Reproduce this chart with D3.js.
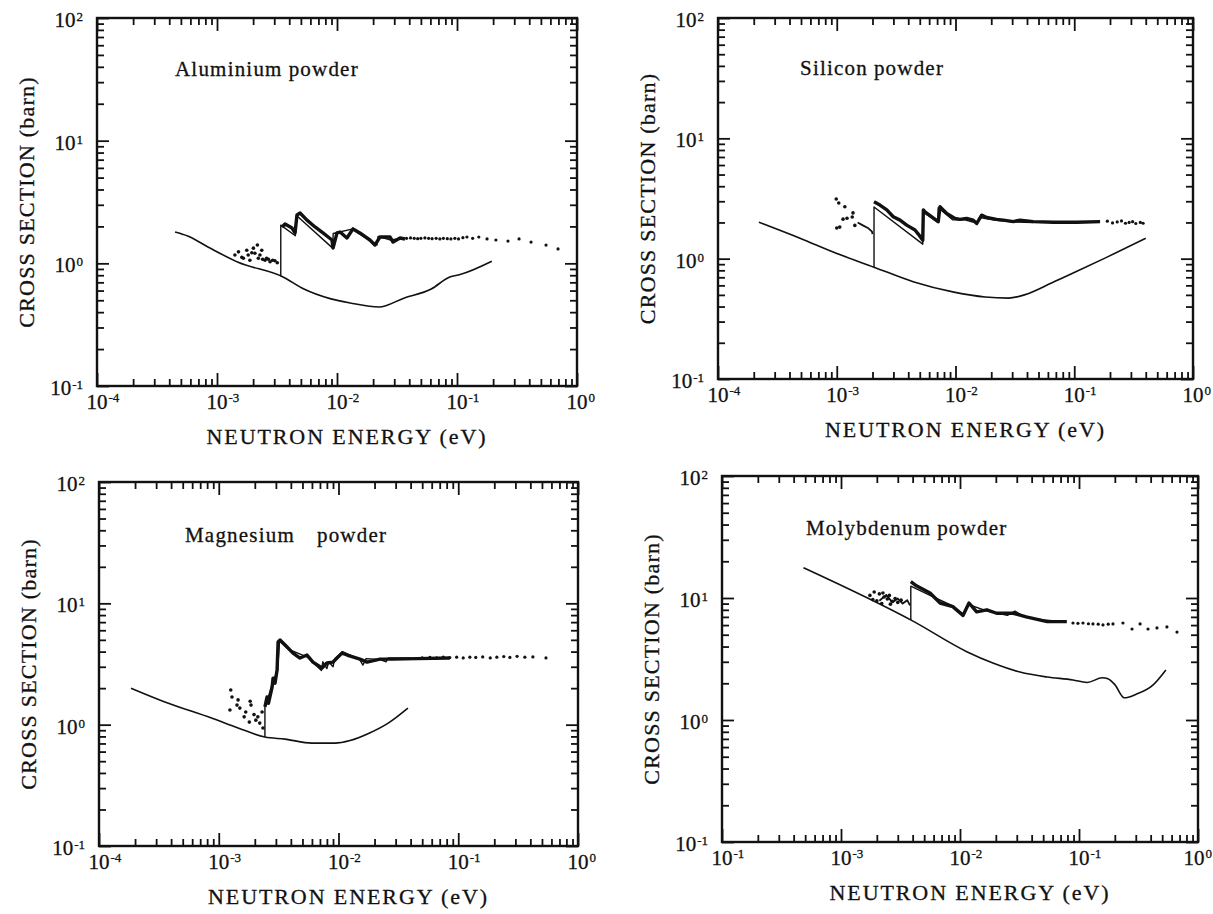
<!DOCTYPE html>
<html><head><meta charset="utf-8">
<script src="https://cdn.jsdelivr.net/npm/d3@7/dist/d3.min.js"></script>
<style>
body{margin:0;background:#fff}
svg{display:block}
text{font-family:"Liberation Serif","Times New Roman","DejaVu Serif",serif;fill:#111;stroke:#111;stroke-width:0.3px}
</style>
</head><body>
<svg id="c" width="1213" height="914" font-family="Liberation Serif, Times New Roman, serif"></svg>
<script>
// ---------- tick labels ----------
const xTickValues = [1e-4, 1e-3, 1e-2, 1e-1, 1];
const xTickExps = ["-4", "-3", "-2", "-1", "0"];
const xTickExpsMo = ["-1", "-3", "-2", "-1", "0"];
const yTickValues = [0.1, 1, 10, 100];
const yTickExps = ["-1", "0", "1", "2"];
const panelTitles = ["Aluminium powder", "Silicon powder", "Magnesium  powder", "Molybdenum powder"];
const xTitle = "NEUTRON ENERGY (eV)";
const yTitle = "CROSS SECTION (barn)";

// ---------- Aluminium ----------
const alLower = [[4.47e-4,1.80],[5.7e-4,1.67],[8.4e-4,1.36],[1.5e-3,1.02],[3.55e-3,0.774],[5.3e-3,0.617],[8.9e-3,0.513],[1.29e-2,0.475],[2.24e-2,0.44],[3.6e-2,0.52],[6.1e-2,0.617],[8.7e-2,0.774],[0.106,0.81],[0.195,1.04]];
const alCalc = [[3.4e-3,0.78],[3.4e-3,2.05],[4.5e-3,1.68],[4.6e-3,2.45],[9.2e-3,1.33],[9.3e-3,1.75],[1.33e-2,1.9],[2.15e-2,1.41],[2.2e-2,1.66],[2.8e-2,1.55],[3.5e-2,1.6]];
const alExp = [[3.48e-3,1.98],[3.69e-3,2.09],[4.22e-3,1.94],[4.47e-3,1.77],[4.64e-3,2.48],[4.92e-3,2.57],[5.62e-3,2.25],[6.56e-3,1.98],[7.64e-3,1.77],[9.08e-3,1.55],[9.27e-3,1.33],[1.0e-2,1.77],[1.06e-2,1.80],[1.21e-2,1.61],[1.36e-2,1.91],[1.55e-2,1.77],[1.88e-2,1.55],[2.07e-2,1.41],[2.28e-2,1.64],[2.77e-2,1.64],[2.93e-2,1.49],[3.35e-2,1.61],[3.69e-2,1.58]];
const alDots = [[1.41e-3,1.17],[1.51e-3,1.24],[1.61e-3,1.12],[1.77e-3,1.28],[1.82e-3,1.17],[1.88e-3,1.06],[2.01e-3,1.33],[2.07e-3,1.21],[2.17e-3,1.41],[2.21e-3,1.10],[2.36e-3,1.28],[2.4e-3,1.08],[2.51e-3,1.06],[2.68e-3,1.08],[2.77e-3,1.03],[2.91e-3,1.06],[3.04e-3,1.05],[3.18e-3,1.01],[1.66e-3,1.10],[1.95e-3,1.22],[2.28e-3,1.17],[2.59e-3,1.10]];
const alTail = [[3.8e-2,1.6],[4.1e-2,1.61],[4.4e-2,1.6],[4.7e-2,1.59],[5.0e-2,1.6],[5.4e-2,1.61],[5.8e-2,1.6],[6.2e-2,1.59],[6.7e-2,1.6],[7.2e-2,1.58],[7.7e-2,1.6],[8.3e-2,1.59],[8.9e-2,1.58],[9.6e-2,1.6],[0.103,1.58],[0.112,1.62],[0.121,1.64],[0.135,1.6],[0.152,1.64],[0.178,1.58],[0.211,1.55],[0.266,1.52],[0.329,1.58],[0.414,1.49],[0.552,1.41],[0.695,1.31]];

// ---------- Silicon ----------
const siLower = [[2.21e-4,2.01],[4.9e-4,1.48],[9.9e-4,1.11],[2.06e-3,0.85],[4.47e-3,0.64],[9.7e-3,0.527],[1.78e-2,0.48],[2.8e-2,0.47],[3.8e-2,0.50],[6.5e-2,0.63],[0.101,0.77],[0.189,1.03],[0.40,1.48]];
const siCalc = [[2.06e-3,0.85],[2.06e-3,2.69],[5.3e-3,1.32],[5.32e-3,2.45],[7.1e-3,2.0],[7.15e-3,2.65],[9.5e-3,2.1],[1.2e-2,2.1],[1.5e-2,1.98],[1.6e-2,2.2],[2.2e-2,2.08],[3e-2,2.02],[4.5e-2,2.0]];
const siExp = [[2.06e-3,2.97],[2.31e-3,2.79],[2.64e-3,2.54],[2.99e-3,2.23],[3.41e-3,2.09],[3.88e-3,1.90],[4.56e-3,1.73],[4.86e-3,1.60],[5.3e-3,1.42],[5.36e-3,2.54],[5.53e-3,2.45],[7.16e-3,2.03],[7.4e-3,2.70],[8.43e-3,2.38],[9.9e-3,2.16],[1.09e-2,2.12],[1.24e-2,2.16],[1.41e-2,2.09],[1.51e-2,1.96],[1.66e-2,2.30],[1.83e-2,2.20],[2.22e-2,2.12],[2.53e-2,2.09],[3.07e-2,2.03],[3.49e-2,2.09],[4.52e-2,2.03],[6.67e-2,2.01],[0.105,2.01],[0.165,2.03]];
const siPre = [[1.5e-3,2.0],[1.66e-3,1.89],[1.83e-3,1.8],[1.98e-3,1.68],[2.0e-3,1.6]];
const siDots = [[9.9e-4,3.13],[1.04e-3,2.9],[1.17e-3,2.7],[1.13e-3,2.13],[1.22e-3,2.17],[1.35e-3,2.22],[1.37e-3,2.4],[1.0e-3,1.8],[1.06e-3,1.83],[1.42e-3,1.89]];
const siTail = [[0.19,2.05],[0.21,1.98],[0.23,2.02],[0.25,2.06],[0.27,1.97],[0.29,2.0],[0.31,2.03],[0.33,1.96],[0.36,2.0],[0.38,1.97]];

// ---------- Magnesium ----------
const mgLower = [[1.85e-4,2.0],[3.55e-4,1.54],[8.8e-4,1.13],[1.45e-3,0.94],[2.43e-3,0.79],[3.57e-3,0.76],[6.0e-3,0.705],[9.3e-3,0.705],[1.25e-2,0.74],[1.8e-2,0.85],[2.6e-2,1.03],[3.8e-2,1.37]];
const mgCalc = [[2.43e-3,0.79],[2.43e-3,1.45],[2.6e-3,1.7],[2.85e-3,2.3],[3.1e-3,2.8],[3.22e-3,4.9],[3.8e-3,4.2],[5.5e-3,3.6],[7.2e-3,2.8],[7.4e-3,3.3],[8.0e-3,2.9],[8.3e-3,3.3],[9e-3,3.0],[9.3e-3,3.5],[1.08e-2,4.0],[1.5e-2,3.45],[1.6e-2,3.1],[1.7e-2,3.5],[2.2e-2,3.45],[2.5e-2,3.3],[2.6e-2,3.55],[4e-2,3.55]];
const mgExp = [[2.43e-3,1.40],[2.53e-3,1.69],[2.6e-3,1.5],[2.79e-3,2.04],[2.84e-3,2.42],[2.95e-3,2.2],[3.07e-3,2.82],[3.13e-3,4.8],[3.25e-3,4.98],[3.72e-3,4.36],[4.17e-3,3.89],[4.77e-3,3.54],[5.46e-3,3.75],[6.12e-3,3.28],[7.28e-3,2.93],[8.0e-3,3.22],[9.0e-3,3.28],[1.07e-2,3.89],[1.18e-2,3.75],[1.51e-2,3.47],[1.73e-2,3.28],[2.22e-2,3.47],[2.85e-2,3.47],[4.5e-2,3.5],[8.5e-2,3.54]];
const mgDots = [[1.26e-3,1.93],[1.29e-3,1.69],[1.24e-3,1.32],[1.42e-3,1.45],[1.5e-3,1.37],[1.68e-3,1.27],[1.83e-3,1.56],[1.86e-3,1.45],[1.97e-3,1.21],[1.8e-3,1.05],[2.12e-3,1.16],[2.3e-3,1.27],[2.2e-3,1.03],[2.34e-3,0.94],[1.45e-3,1.6],[1.63e-3,1.16],[2.04e-3,1.09]];
const mgTail = [[0.05,3.56],[0.058,3.58],[0.066,3.55],[0.075,3.6],[0.085,3.57],[0.097,3.6],[0.11,3.55],[0.125,3.6],[0.14,3.58],[0.16,3.62],[0.185,3.55],[0.21,3.6],[0.24,3.64],[0.27,3.58],[0.31,3.66],[0.36,3.6],[0.42,3.62],[0.54,3.55]];

// ---------- Molybdenum ----------
const moLower = [[4.84e-4,17.7],[4.1e-3,6.4],[1.14e-2,3.63],[1.89e-2,2.93],[3.19e-2,2.47],[5.4e-2,2.25],[8.9e-2,2.13],[0.117,2.03],[0.157,2.22],[0.175,2.18],[0.2,1.95],[0.24,1.52],[0.3,1.62],[0.42,1.94],[0.537,2.57]];
const moCalc = [[3.86e-3,6.6],[3.86e-3,12.5],[5.6e-3,10.5],[8.7e-3,8.6],[1.06e-2,7.4],[1.19e-2,8.8],[1.7e-2,7.8],[2.5e-2,7.2],[2.9e-2,7.8],[3.5e-2,7.0],[5e-2,6.6],[7.5e-2,6.4]];
const moExp = [[3.86e-3,13.6],[4.3e-3,12.6],[5.6e-3,11.0],[6.8e-3,9.1],[8.7e-3,8.5],[1.06e-2,7.2],[1.19e-2,9.1],[1.38e-2,7.7],[1.68e-2,8.0],[2.03e-2,7.5],[2.8e-2,7.5],[3.6e-2,7.0],[5.4e-2,6.4],[7.9e-2,6.4]];
const moPre = [[2.1e-3,9.5],[2.4e-3,10.6],[2.7e-3,9.2],[3.0e-3,9.9],[3.3e-3,9.0],[3.6e-3,9.6],[3.8e-3,8.7]];
const moDots = [[1.75e-3,10.5],[1.9e-3,11.2],[2.0e-3,9.5],[2.1e-3,10.8],[2.2e-3,9.0],[2.3e-3,10.2],[2.45e-3,9.8],[2.55e-3,10.5],[2.7e-3,9.4],[2.85e-3,9.9],[3.0e-3,9.2],[3.2e-3,9.6],[1.85e-3,9.7],[2.25e-3,11.0],[2.6e-3,8.9]];
const moTail = [[0.089,6.24],[0.098,6.2],[0.108,6.24],[0.12,6.15],[0.131,6.13],[0.145,6.1],[0.159,6.02],[0.176,6.1],[0.193,6.13],[0.234,6.24],[0.279,5.57],[0.326,6.13],[0.38,5.57],[0.452,5.68],[0.548,5.79],[0.666,5.26]];

// ---------- layout (positions only) ----------
const panels = [
  {left:97,  right:577,  top:18,  bottom:386, title:panelTitles[0], tdx:78, tdy:58, xExps:xTickExps,
   lower:alLower, calc:alCalc, exp:alExp, pre:null, dots:alDots, tail:alTail},
  {left:718, right:1193, top:18,  bottom:379, title:panelTitles[1], tdx:82, tdy:57, xExps:xTickExps,
   lower:siLower, calc:siCalc, exp:siExp, pre:siPre, dots:siDots, tail:siTail},
  {left:99,  right:578,  top:482, bottom:846, title:panelTitles[2], tdx:86, tdy:60, xExps:xTickExps,
   lower:mgLower, calc:mgCalc, exp:mgExp, pre:null, dots:mgDots, tail:mgTail},
  {left:722, right:1198, top:476, bottom:842, title:panelTitles[3], tdx:84, tdy:59, xExps:xTickExpsMo,
   lower:moLower, calc:moCalc, exp:moExp, pre:moPre, dots:moDots, tail:moTail}
];

const svg = d3.select("#c");
const W = 1213;

function minorTicks(lo, hi){
  const out = [];
  for (let e = lo; e < hi; e++) for (let k = 2; k < 10; k++) out.push(k * Math.pow(10, e));
  return out;
}

function drawPanel(p){
  const x = d3.scaleLog().domain([1e-4, 1]).range([p.left, p.right]);
  const y = d3.scaleLog().domain([0.1, 100]).range([p.bottom, p.top]);
  const g = svg.append("g");
  const xMinor = minorTicks(-4, 0), yMinor = minorTicks(-1, 2);

  function axisStyle(sel){
    sel.select(".domain").remove();
    sel.selectAll(".tick line").attr("stroke", "#111").attr("stroke-width", 1.8);
  }
  g.append("g").attr("transform", `translate(0,${p.bottom})`).call(d3.axisBottom(x).tickValues(xTickValues).tickSize(-13).tickFormat("")).call(axisStyle);
  g.append("g").attr("transform", `translate(0,${p.bottom})`).call(d3.axisBottom(x).tickValues(xMinor).tickSize(-7).tickFormat("")).call(axisStyle);
  g.append("g").attr("transform", `translate(0,${p.top})`).call(d3.axisTop(x).tickValues(xTickValues).tickSize(-13).tickFormat("")).call(axisStyle);
  g.append("g").attr("transform", `translate(0,${p.top})`).call(d3.axisTop(x).tickValues(xMinor).tickSize(-7).tickFormat("")).call(axisStyle);
  g.append("g").attr("transform", `translate(${p.left},0)`).call(d3.axisLeft(y).tickValues(yTickValues).tickSize(-12).tickFormat("")).call(axisStyle);
  g.append("g").attr("transform", `translate(${p.left},0)`).call(d3.axisLeft(y).tickValues(yMinor).tickSize(-7).tickFormat("")).call(axisStyle);
  g.append("g").attr("transform", `translate(${p.right},0)`).call(d3.axisRight(y).tickValues(yTickValues).tickSize(-12).tickFormat("")).call(axisStyle);
  g.append("g").attr("transform", `translate(${p.right},0)`).call(d3.axisRight(y).tickValues(yMinor).tickSize(-7).tickFormat("")).call(axisStyle);

  g.append("rect").attr("x", p.left).attr("y", p.top)
    .attr("width", p.right - p.left).attr("height", p.bottom - p.top)
    .attr("fill", "none").attr("stroke", "#111").attr("stroke-width", 2.4);

  // x tick labels: "10" centred on the tick, exponent to the right
  xTickValues.forEach((v, i) => {
    const t = g.append("text").attr("y", p.bottom + 23).attr("font-size", 21).attr("text-anchor", "start");
    t.append("tspan").text("10");
    t.append("tspan").attr("dy", -7).attr("dx", 1).attr("font-size", 13).text(p.xExps[i]);
    let sx = x(v) - 10.5;
    const w = t.node().getComputedTextLength();
    if (sx + w > W - 2) sx = W - 2 - w;
    t.attr("x", sx);
  });
  yTickValues.forEach((v, i) => {
    const t = g.append("text").attr("x", p.left - 14).attr("y", y(v) + 9)
      .attr("font-size", 21).attr("text-anchor", "end");
    t.append("tspan").text("10");
    t.append("tspan").attr("dy", -6).attr("dx", 1).attr("font-size", 13).text(yTickExps[i]);
  });

  g.append("text").attr("x", (p.left + p.right) / 2 + 10).attr("y", p.bottom + 58)
    .attr("text-anchor", "middle").attr("font-size", 22).attr("letter-spacing", 1.9).text(xTitle);
  const yc = (p.top + p.bottom) / 2;
  g.append("text").attr("transform", `translate(${p.left - 63},${yc}) rotate(-90)`)
    .attr("text-anchor", "middle").attr("font-size", 22).attr("letter-spacing", 1.2).text(yTitle);

  const tt = g.append("text").attr("x", p.left + p.tdx).attr("y", p.top + p.tdy)
    .attr("font-size", 21).attr("letter-spacing", 1.2);
  const words = p.title.split(/\s+/);
  tt.append("tspan").text(words[0]);
  tt.append("tspan").attr("dx", p.title.includes("  ") ? 22 : 6).text(words[1]);

  const line = d3.line().x(d => x(d[0])).y(d => y(d[1]));
  const smooth = d3.line().x(d => x(d[0])).y(d => y(d[1])).curve(d3.curveMonotoneX);

  g.append("path").attr("d", smooth(p.lower)).attr("fill", "none").attr("stroke", "#111").attr("stroke-width", 1.6);
  g.append("path").attr("d", line(p.calc)).attr("fill", "none").attr("stroke", "#111").attr("stroke-width", 1.4).attr("stroke-linejoin", "round");
  g.append("path").attr("d", line(p.exp)).attr("fill", "none").attr("stroke", "#111").attr("stroke-width", 3.4).attr("stroke-linejoin", "round");
  if (p.pre) g.append("path").attr("d", line(p.pre)).attr("fill", "none").attr("stroke", "#111").attr("stroke-width", 1.8).attr("stroke-linejoin", "round");
  g.selectAll(null).data(p.dots).join("circle").attr("cx", d => x(d[0])).attr("cy", d => y(d[1])).attr("r", 1.8).attr("fill", "#111");
  g.selectAll(null).data(p.tail).join("circle").attr("cx", d => x(d[0])).attr("cy", d => y(d[1])).attr("r", 1.6).attr("fill", "#111");
}

panels.forEach(drawPanel);
</script>
</body></html>
